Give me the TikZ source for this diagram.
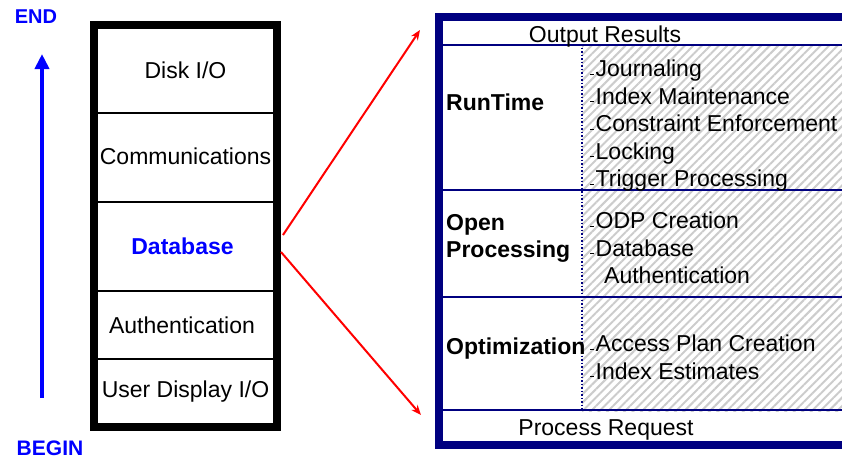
\documentclass[tikz,border=0pt]{standalone}
\usepackage{fontspec}
\setmainfont{Liberation Sans}
\usetikzlibrary{arrows.meta,positioning,calc,fit,backgrounds,patterns.meta}
\usepackage{xcolor}

\definecolor{navyline}{RGB}{0,0,128}
\definecolor{flowblue}{RGB}{0,0,255}
\newcommand{\itm}{\rule[2pt]{3.5pt}{1.2pt}\hspace{2pt}}

\begin{document}
\begin{tikzpicture}[
    x=1pt, y=-1pt,
    layer/.style={rectangle, draw, line width=1.5pt, minimum width=177pt, minimum height=#1, inner sep=0pt, font=\fontsize{23}{27}\selectfont},
    row/.style={rectangle, draw=navyline, line width=2pt, minimum width=458pt, minimum height=#1, inner sep=0pt},
    head/.style={font=\fontsize{23}{27}\selectfont\bfseries, align=left, inner sep=0pt, anchor=west},
    items/.style={font=\fontsize{23}{27.5}\selectfont, align=left, inner sep=0pt, anchor=west},
    plain/.style={font=\fontsize{23}{27}\selectfont, inner sep=0pt},
    zoomline/.style={draw=red, line width=2pt, -{Stealth[length=10pt, width=8pt]}},
    >=Stealth
]
    \clip (0,0) rectangle (842,459);

    % left stack
    \node[layer=85pt] (disk) at (185.5, 70.5) {Disk I/O};
    \node[layer=89pt] (comm) at (185.5, 157.5) {\raisebox{3pt}{Communications}};
    \node[layer=89pt, font=\fontsize{23}{27}\selectfont\bfseries, text=flowblue] (database) at (185.5, 246.5) {\hspace*{-6pt}Database};
    \node[layer=68pt] (auth) at (185.5, 325) {\hspace*{-7pt}Authentication};
    \node[layer=65pt] (user) at (185.5, 391.5) {User Display I/O};
    \node[fit=(disk)(user), inner sep=3pt, draw, line width=6pt] (stack) {};

    % begin / end flow
    \node[font=\fontsize{20}{24}\selectfont\bfseries, text=flowblue] (endlbl) at (36, 17) {END};
    \node[font=\fontsize{21}{25}\selectfont\bfseries, text=flowblue] (beginlbl) at (50, 448) {BEGIN};
    \coordinate (flowstart) at (42, 398);
    \coordinate (flowend) at (42, 54);
    \draw[flowblue, line width=4pt, -{Triangle[length=15pt, width=14pt]}] (flowstart) -- (flowend);

    % right box
    \node[row=25pt] (outres) at (671, 32.5) {};
    \node[row=145pt] (runtime) at (671, 117.5) {};
    \node[row=107pt] (openproc) at (671, 243.5) {};
    \node[row=113pt] (optim) at (671, 353.5) {};
    \node[row=32pt] (procreq) at (671, 426) {};
    \node[fit=(outres)(procreq), inner sep=3pt, draw=navyline, line width=6pt] (detail) {};

    \begin{scope}[on background layer]
        \fill[pattern={Lines[angle=45, distance=6pt, line width=2pt]}, pattern color=black!20]
            ([xshift=141pt]runtime.north west) rectangle (optim.south east);
    \end{scope}
    \draw[navyline, dotted, line width=1.5pt] ([xshift=141pt]runtime.north west) -- ([xshift=141pt]optim.south west);

    \node[plain] (outlbl) at (605, 36.5) {Output Results};
    \node[plain] (reqlbl) at (606, 430) {Process Request};

    \node[head] (rtlbl) at (446, 102) {RunTime};
    \node[head] (oplbl) at (446, 238) {Open\\Processing};
    \node[head] (optlbl) at (446, 349) {Optimization};

    \node[items] (rtitems) at (590, 126) {\itm Journaling\\\itm Index Maintenance\\\itm Constraint Enforcement\\\itm Locking\\\itm Trigger Processing};
    \node[items] (opitems) at (590, 248) {\itm ODP Creation\\\itm Database\\\hspace*{14pt}Authentication};
    \node[items] (optitems) at (590, 357.5) {\itm Access Plan Creation\\\itm Index Estimates};

    % zoom connectors
    \coordinate (dbtop) at (283, 235);
    \coordinate (dbbot) at (281, 252);
    \coordinate (detailtop) at (420, 30);
    \coordinate (detailbot) at (421, 415);
    \draw[zoomline] (dbtop) -- (detailtop);
    \draw[zoomline] (dbbot) -- (detailbot);
\end{tikzpicture}
\end{document}
